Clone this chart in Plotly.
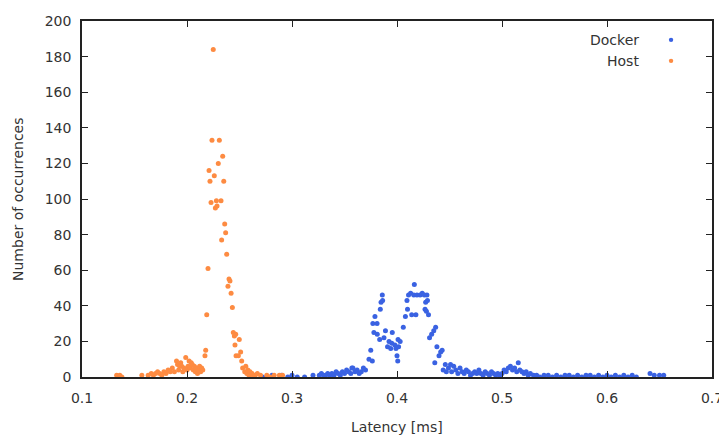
"""Latency histogram: Docker vs Host (gnuplot-style scatter)."""
import plotly.graph_objects as go

TEXT_COLOR = '#333333'
FRAME_COLOR = '#222222'
FONT = 'DejaVu Sans'
HOST_COLOR = '#fd8b42'
DOCKER_COLOR = '#3a62e2'

# Host latency histogram (ms, occurrences)
host_latency = [
    0.133, 0.136, 0.138, 0.157, 0.163, 0.166, 0.168, 0.170, 0.172, 0.174,
    0.176, 0.178, 0.180, 0.182, 0.184, 0.186, 0.188, 0.190, 0.191, 0.192,
    0.193, 0.194, 0.195, 0.196, 0.197, 0.1988, 0.200, 0.201, 0.202, 0.203,
    0.204, 0.205, 0.206, 0.207, 0.208, 0.209, 0.210, 0.211, 0.212, 0.213,
    0.214, 0.215, 0.2171, 0.2178, 0.2188, 0.2200, 0.2210, 0.2219, 0.2229, 0.2238,
    0.2250, 0.2260, 0.2270, 0.2280, 0.2286, 0.2298, 0.2308, 0.2324, 0.2330, 0.2340,
    0.2350, 0.2359, 0.2368, 0.2378, 0.2390, 0.2400, 0.2409, 0.2420, 0.2432, 0.2441,
    0.2451, 0.2457, 0.2464, 0.2467, 0.2489, 0.2498, 0.2511, 0.2521, 0.253, 0.255,
    0.256, 0.257, 0.258, 0.259, 0.260, 0.262, 0.263, 0.265, 0.267, 0.270,
    0.276, 0.279, 0.283, 0.288, 0.291,
]
host_count = [
    1, 1, 0, 1, 1, 2, 1, 2, 3, 2,
    1, 3, 2, 4, 3, 5, 3, 9, 7, 4,
    6, 8, 6, 3, 5, 11, 4, 6, 9, 5,
    8, 7, 4, 6, 3, 5, 2, 4, 6, 3,
    5, 4, 12, 15, 35, 61, 116, 110, 98, 133,
    184, 113, 95, 99, 96, 120, 133, 99, 77, 124,
    110, 86, 81, 69, 51, 55, 54, 47, 39, 25,
    23, 18, 24, 12, 12, 21, 14, 9, 5, 3,
    6, 2, 4, 1, 3, 2, 1, 1, 2, 1,
    1, 0, 1, 1, 1,
]

# Docker latency histogram (ms, occurrences)
docker_latency = [
    0.272, 0.281, 0.290, 0.296, 0.300, 0.305, 0.312, 0.320, 0.326, 0.328,
    0.330, 0.332, 0.334, 0.336, 0.338, 0.340, 0.342, 0.344, 0.346, 0.348,
    0.350, 0.352, 0.354, 0.356, 0.357, 0.358, 0.360, 0.362, 0.364, 0.366,
    0.368, 0.370, 0.3733, 0.375, 0.3765, 0.377, 0.378, 0.379, 0.381, 0.3812,
    0.3835, 0.3841, 0.3848, 0.386, 0.3863, 0.3876, 0.389, 0.391, 0.3924, 0.394,
    0.395, 0.3955, 0.398, 0.399, 0.400, 0.4007, 0.401, 0.4015, 0.403, 0.406,
    0.408, 0.4095, 0.410, 0.411, 0.413, 0.414, 0.4165, 0.416, 0.418, 0.419,
    0.422, 0.424, 0.426, 0.4267, 0.4273, 0.428, 0.4285, 0.429, 0.430, 0.431,
    0.433, 0.435, 0.436, 0.4368, 0.438, 0.440, 0.4416, 0.443, 0.444, 0.446,
    0.447, 0.449, 0.451, 0.452, 0.454, 0.456, 0.458, 0.460, 0.462, 0.464,
    0.466, 0.468, 0.470, 0.472, 0.474, 0.476, 0.478, 0.480, 0.482, 0.484,
    0.486, 0.488, 0.490, 0.492, 0.494, 0.496, 0.498, 0.500, 0.502, 0.504,
    0.506, 0.508, 0.510, 0.512, 0.514, 0.5155, 0.517, 0.519, 0.521, 0.523,
    0.525, 0.527, 0.530, 0.533, 0.536, 0.540, 0.544, 0.548, 0.552, 0.556,
    0.560, 0.564, 0.568, 0.572, 0.576, 0.580, 0.584, 0.588, 0.592, 0.596,
    0.600, 0.604, 0.608, 0.612, 0.616, 0.620, 0.624, 0.628, 0.641, 0.645,
    0.650, 0.654,
]
docker_count = [
    0, 1, 1, 0, 1, 0, 0, 1, 1, 2,
    1, 1, 2, 1, 2, 1, 3, 2, 1, 3,
    2, 4, 3, 2, 5, 5, 3, 4, 2, 3,
    5, 4, 10, 15, 9, 30, 25, 34, 30, 24,
    21, 38, 42, 46, 43, 22, 26, 17, 20, 16,
    19, 25, 18, 16, 12, 9, 21, 17, 20, 28,
    34, 43, 38, 46, 47, 35, 52, 46, 35, 46,
    46, 47, 46, 38, 42, 37, 46, 43, 35, 22,
    24, 26, 8, 28, 17, 12, 14, 15, 4, 7,
    3, 5, 7, 3, 6, 4, 2, 5, 3, 2,
    4, 3, 1, 2, 3, 2, 4, 2, 1, 3,
    2, 1, 3, 2, 1, 2, 1, 2, 4, 3,
    5, 6, 4, 5, 3, 8, 4, 3, 2, 3,
    1, 2, 1, 1, 0, 1, 1, 0, 1, 0,
    1, 1, 0, 1, 0, 1, 1, 0, 1, 0,
    1, 0, 1, 0, 1, 0, 1, 0, 2, 1,
    1, 1,
]

fig = go.Figure()

fig.add_trace(
    go.Scatter(
        x=docker_latency,
        y=docker_count,
        mode='markers',
        marker={'color': DOCKER_COLOR, 'size': 5},
        name='Docker',
    ))

fig.add_trace(
    go.Scatter(
        x=host_latency,
        y=host_count,
        mode='markers',
        marker={'color': HOST_COLOR, 'size': 5},
        name='Host',
    ))

text_font = {'size': 14, 'color': TEXT_COLOR, 'family': FONT}

# gnuplot-style key: text first, sample dot to the right
legend_items = [('Docker', DOCKER_COLOR, 0.947), ('Host', HOST_COLOR, 0.888)]
annotations = []
shapes = []
for label, color, ypos in legend_items:
    annotations.append({
        'text': label,
        'xref': 'paper',
        'yref': 'paper',
        'x': 0.887,
        'y': ypos,
        'xanchor': 'right',
        'yanchor': 'middle',
        'showarrow': False,
        'font': text_font,
    })
    shapes.append({
        'type': 'circle',
        'xref': 'paper',
        'yref': 'paper',
        'x0': 0.9315,
        'x1': 0.9385,
        'y0': ypos - 0.0062,
        'y1': ypos + 0.0062,
        'fillcolor': color,
        'line': {'width': 0},
    })

# axis titles placed where gnuplot puts them
annotations.append({
    'text': 'Latency [ms]',
    'xref': 'paper', 'yref': 'paper',
    'x': 0.5, 'y': -0.140,
    'xanchor': 'center', 'yanchor': 'middle',
    'showarrow': False,
    'font': text_font,
})
annotations.append({
    'text': 'Number of occurrences',
    'xref': 'paper', 'yref': 'paper',
    'x': -0.1016, 'y': 0.5,
    'xanchor': 'center', 'yanchor': 'middle',
    'textangle': -90,
    'showarrow': False,
    'font': text_font,
})

# the page body adds an 8px offset, so the figure is 8px smaller
fig.update_layout(
    width=719,
    height=427,
    margin={'t': 13, 'b': 58, 'l': 74, 'r': 15},
    paper_bgcolor='white',
    plot_bgcolor='white',
    showlegend=False,
    font={'family': FONT, 'size': 14, 'color': TEXT_COLOR},
    annotations=annotations,
    shapes=shapes,
)

axis_style = dict(
    ticks='inside',
    ticklen=6,
    tickcolor=FRAME_COLOR,
    showline=True,
    linecolor=FRAME_COLOR,
    linewidth=1.5,
    mirror='ticks',
    showgrid=False,
    zeroline=False,
    automargin=False,
)

fig.update_xaxes(
    range=[0.1, 0.7],
    dtick=0.1,
    tickformat='.1f',
    ticklabelstandoff=7,
    **axis_style,
)

fig.update_yaxes(
    range=[0, 200],
    dtick=20,
    ticklabelstandoff=6,
    **axis_style,
)

fig.write_html('out.html')
